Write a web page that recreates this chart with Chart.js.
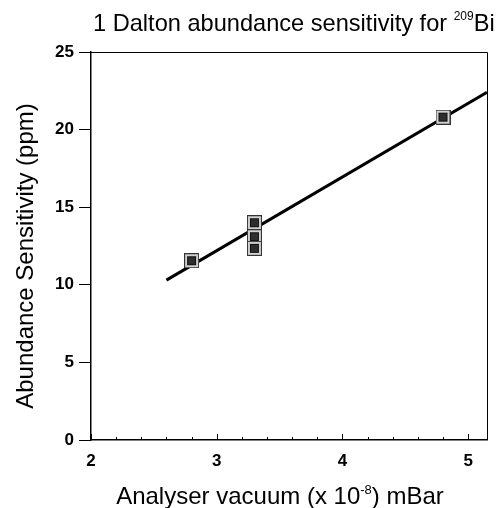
<!DOCTYPE html>
<html>
<head>
<meta charset="utf-8">
<script src="https://cdn.jsdelivr.net/npm/chart.js@4.4.0/dist/chart.umd.min.js"></script>
<style>
  html, body { margin: 0; padding: 0; background: #fff; }
</style>
</head>
<body>
<canvas id="chart" width="502" height="508"></canvas>
<script>
// measured points
var vacuum = [2.8, 3.3, 3.3, 3.3, 4.8];
var sensitivity = [11.55, 14.0, 13.1, 12.35, 20.8];

// fitted line, end points as drawn
var fitX = [2.6, 5.15];
var fitY = [10.3, 22.4];

// axis ticks
var xTickLabels = [2, 3, 4, 5];
var xMinorTicks = [2.2, 2.4, 2.6, 2.8, 3.2, 3.4, 3.6, 3.8, 4.2, 4.4, 4.6, 4.8];
var yTickLabels = [0, 5, 10, 15, 20, 25];

var FONT = '"Liberation Sans", Arial, sans-serif';

// square marker: dark core with a light ring
function makeMarker() {
    var c = document.createElement('canvas');
    c.width = 15; c.height = 15;
    var g = c.getContext('2d');
    g.fillStyle = '#333';
    g.fillRect(0, 0, 15, 15);
    g.fillStyle = '#d0d0d0';
    g.fillRect(1, 1, 13, 13);
    g.fillStyle = '#111';
    g.fillRect(3, 3, 9, 9);
    g.fillStyle = '#2e2e2e';
    g.fillRect(4, 4, 7, 7);
    return c;
}

var points = vacuum.map(function (v, i) { return { x: v, y: sensitivity[i] }; });
var fitLine = fitX.map(function (v, i) { return { x: v, y: fitY[i] }; });

// draws text with a raised part: parts = [[text, superscript?], ...]
function drawParts(ctx, parts, x, y, size, supSize, rise) {
    parts.forEach(function (p) {
        ctx.font = (p[1] ? supSize : size) + 'px ' + FONT;
        ctx.fillText(p[0], x, p[1] ? y - rise : y);
        x += ctx.measureText(p[0]).width;
    });
}
function partsWidth(ctx, parts, size, supSize) {
    var w = 0;
    parts.forEach(function (p) {
        ctx.font = (p[1] ? supSize : size) + 'px ' + FONT;
        w += ctx.measureText(p[0]).width;
    });
    return w;
}

var decor = {
    id: 'decor',
    afterDraw: function (chart) {
        var ctx = chart.ctx;
        var a = chart.chartArea;
        var xs = chart.scales.x;
        ctx.save();
        ctx.strokeStyle = '#000';
        // frame top and right
        ctx.lineWidth = 1;
        ctx.beginPath();
        ctx.moveTo(a.left, a.top + 0.5);
        ctx.lineTo(a.right + 0.5, a.top + 0.5);
        ctx.lineTo(a.right + 0.5, a.bottom);
        ctx.stroke();
        // inward ticks on x axis
        ctx.lineWidth = 1;
        ctx.beginPath();
        xTickLabels.forEach(function (v) {
            var px = Math.round(xs.getPixelForValue(v)) + 0.5;
            ctx.moveTo(px, a.bottom);
            ctx.lineTo(px, a.bottom - 6);
        });
        xMinorTicks.forEach(function (v) {
            var px = Math.round(xs.getPixelForValue(v)) + 0.5;
            ctx.moveTo(px, a.bottom);
            ctx.lineTo(px, a.bottom - 3);
        });
        ctx.stroke();

        ctx.fillStyle = '#000';
        ctx.textBaseline = 'alphabetic';
        ctx.textAlign = 'left';
        // title
        drawParts(ctx, [['1 Dalton abundance sensitivity for ', false], ['209', true], ['Bi', false]],
            93, 31, 23.6, 12, 11);
        // x axis title
        var xParts = [['Analyser vacuum (x 10', false], ['-8', true], [') mBar', false]];
        var w = partsWidth(ctx, xParts, 24, 13);
        drawParts(ctx, xParts, 280 - w / 2, 504, 24, 13, 10);
        // y axis title
        ctx.translate(33, 256);
        ctx.rotate(-Math.PI / 2);
        ctx.textAlign = 'center';
        ctx.font = '24px ' + FONT;
        ctx.fillText('Abundance Sensitivity (ppm)', 0, 0);
        ctx.restore();
    }
};

new Chart(document.getElementById('chart'), {
    type: 'scatter',
    data: {
        datasets: [
            {
                label: 'measured',
                data: points,
                pointStyle: makeMarker(),
                pointRadius: 7,
                order: 0
            },
            {
                label: 'fit',
                type: 'line',
                data: fitLine,
                borderColor: '#000',
                borderWidth: 3,
                pointRadius: 0,
                fill: false,
                order: 1
            }
        ]
    },
    options: {
        responsive: false,
        animation: false,
        layout: { padding: { left: 0, top: 52, right: 15, bottom: 0 } },
        plugins: {
            legend: { display: false },
            title: { display: false },
            tooltip: { enabled: false }
        },
        scales: {
            x: {
                type: 'linear',
                min: 2,
                max: 5.15,
                afterFit: function (s) { s.height = 68; },
                afterBuildTicks: function (s) {
                    s.ticks = xTickLabels.map(function (v) { return { value: v }; });
                },
                grid: { display: true, drawOnChartArea: false, drawTicks: false, color: '#000' },
                border: { display: true, color: '#000', width: 1.5 },
                ticks: {
                    color: '#000',
                    padding: 11,
                    font: { family: FONT, size: 17, weight: 'bold' }
                }
            },
            y: {
                type: 'linear',
                min: 0,
                max: 25,
                afterFit: function (s) { s.width = 91; },
                afterBuildTicks: function (s) {
                    s.ticks = yTickLabels.map(function (v) { return { value: v }; });
                },
                grid: { drawOnChartArea: false, drawTicks: true, tickLength: 12, color: '#000', lineWidth: 1 },
                border: { display: true, color: '#000', width: 1.5 },
                ticks: {
                    color: '#000',
                    padding: 5,
                    font: { family: FONT, size: 17, weight: 'bold' }
                }
            }
        }
    },
    plugins: [decor]
});
</script>
</body>
</html>
